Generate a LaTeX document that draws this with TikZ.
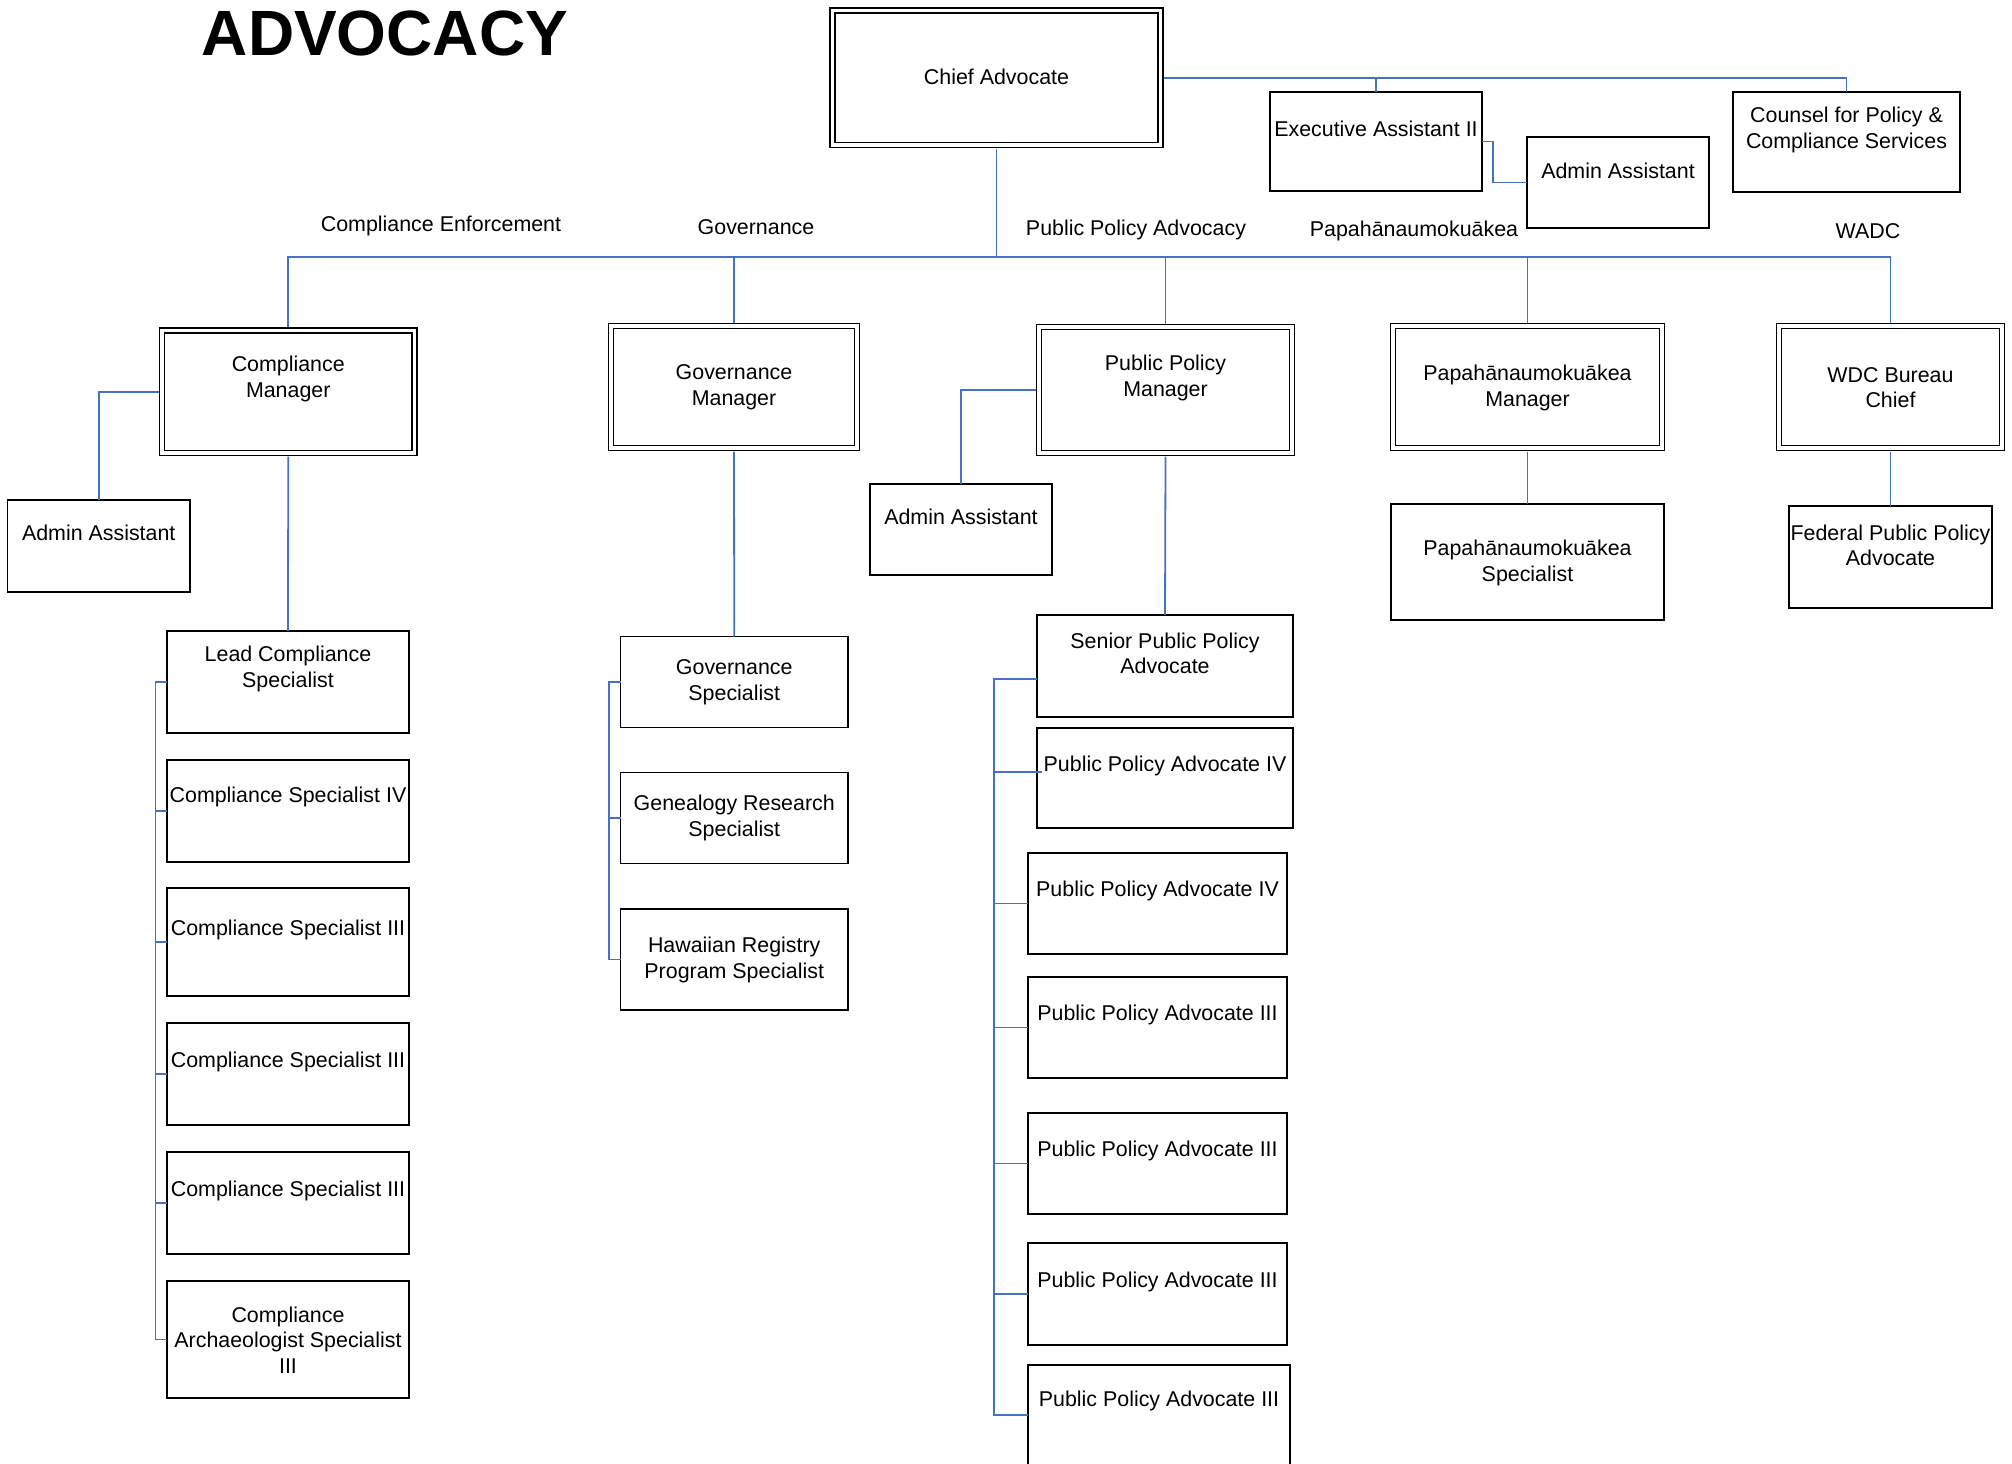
\documentclass[tikz,border=0pt]{standalone}
\usepackage{fontspec}
\setmainfont{Liberation Sans}
\usetikzlibrary{calc}
\definecolor{linkblue}{RGB}{68,114,196}

\begin{document}
\begin{tikzpicture}[x=0.5pt,y=-0.5pt]
	\tikzstyle{every node}+=[inner sep=0pt, outer sep=0pt, align=center, font=\fontsize{10.7}{12.8}\selectfont]
	\tikzstyle{box}=[draw=black, line width=0.9pt]
	\tikzstyle{mgr}=[draw=black, line width=0.95pt, double, double distance=1.55pt, outer sep=1.75pt]
	\tikzstyle{lbl}=[yshift=-0.6pt]
	\tikzstyle{link}=[draw=linkblue, line width=0.9pt]
	\useasboundingbox (0,0) rectangle (2012,1463);
	\clip (0,0) rectangle (2012,1463);
	\node (title) at (385,33) [font=\fontsize{32}{36}\selectfont\bfseries] {ADVOCACY};
	\node (chief) [mgr, minimum width=164pt, minimum height=67.25pt] at (996.5,77.75) {};
	\node (chiefl) [lbl] at (996.5,76) {Chief Advocate};
	\node (exec) [box, minimum width=106pt, minimum height=49.5pt] at (1376,141.5) {};
	\node (execl) [lbl] at (1376,128) {Executive Assistant II};
	\node (adm1) [box, minimum width=91pt, minimum height=45.5pt] at (1618,182.5) {};
	\node (adm1l) [lbl] at (1618,170) {Admin Assistant};
	\node (counsel) [box, minimum width=113.5pt, minimum height=50pt] at (1846.5,142) {};
	\node (counsell) [lbl] at (1846.5,128.5) {Counsel for Policy \&\\Compliance Services};
	\node (secce) [lbl] at (441,225) {Compliance Enforcement};
	\node (secgov) [lbl] at (756,226) {Governance};
	\node (secppa) [lbl] at (1136,229) {Public Policy Advocacy};
	\node (secpap) [lbl] at (1414,230) {Papahānaumokuākea};
	\node (secwadc) [lbl] at (1868,230) {WADC};
	\node (cmgr) [mgr, minimum width=126.25pt, minimum height=61.25pt] at (288.25,391.75) {};
	\node (cmgrl) [lbl] at (288.25,378) {Compliance\\Manager};
	\node (adm0) [box, minimum width=91.25pt, minimum height=46pt] at (98.75,546) {};
	\node (adm0l) [lbl] at (98.75,532) {Admin Assistant};
	\node (gmgr) [mgr, minimum width=123pt, minimum height=61pt] at (734,387) {};
	\node (gmgrl) [lbl] at (734,386) {Governance\\Manager};
	\node (pmgr) [mgr, minimum width=126.5pt, minimum height=63pt] at (1165.5,390) {};
	\node (pmgrl) [lbl] at (1165.5,377) {Public Policy\\Manager};
	\node (adm2) [box, minimum width=91pt, minimum height=45.5pt] at (961,529.5) {};
	\node (adm2l) [lbl] at (961,516) {Admin Assistant};
	\node (pamgr) [mgr, minimum width=134.5pt, minimum height=61pt] at (1527.5,387) {};
	\node (pamgrl) [lbl] at (1527.5,386.5) {Papahānaumokuākea\\Manager};
	\node (wmgr) [mgr, minimum width=111.5pt, minimum height=61pt] at (1890.5,387) {};
	\node (wmgrl) [lbl] at (1890.5,386.5) {WDC Bureau\\Chief};
	\node (paspec) [box, minimum width=136.5pt, minimum height=58pt] at (1527.5,562) {};
	\node (paspecl) [lbl] at (1527.5,561.5) {Papahānaumokuākea\\Specialist};
	\node (fed) [box, minimum width=101.5pt, minimum height=51pt] at (1890.5,557) {};
	\node (fedl) [lbl] at (1890.5,544) {Federal Public Policy\\Advocate};
	\node (lead) [box, minimum width=121pt, minimum height=51pt] at (288,682) {};
	\node (leadl) [lbl] at (288,668) {Lead Compliance\\Specialist};
	\node (cs4) [box, minimum width=121pt, minimum height=51pt] at (288,811) {};
	\node (cs4l) [lbl] at (288,796) {Compliance Specialist IV};
	\node (cs3a) [box, minimum width=121pt, minimum height=54pt] at (288,942) {};
	\node (cs3al) [lbl] at (288,929) {Compliance Specialist III};
	\node (cs3b) [box, minimum width=121pt, minimum height=51pt] at (288,1074) {};
	\node (cs3bl) [lbl] at (288,1061) {Compliance Specialist III};
	\node (cs3c) [box, minimum width=121pt, minimum height=51pt] at (288,1203) {};
	\node (cs3cl) [lbl] at (288,1190) {Compliance Specialist III};
	\node (arch) [box, minimum width=121pt, minimum height=58.5pt] at (288,1339.5) {};
	\node (archl) [lbl] at (288,1339) {Compliance\\Archaeologist Specialist\\III};
	\node (gspec) [box, minimum width=113.75pt, minimum height=45.5pt] at (734.25,682) {};
	\node (gspecl) [lbl] at (734.25,681) {Governance\\Specialist};
	\node (gen) [box, minimum width=113.75pt, minimum height=45.5pt] at (734.25,818) {};
	\node (genl) [lbl] at (734.25,817) {Genealogy Research\\Specialist};
	\node (hawaii) [box, minimum width=113.75pt, minimum height=50.5pt] at (734.25,959.5) {};
	\node (hawaiil) [lbl] at (734.25,959) {Hawaiian Registry\\Program Specialist};
	\node (senior) [box, minimum width=128pt, minimum height=51pt] at (1165,666) {};
	\node (seniorl) [lbl] at (1165,652) {Senior Public Policy\\Advocate};
	\node (ppa4a) [box, minimum width=128pt, minimum height=50pt] at (1165,778) {};
	\node (ppa4al) [lbl] at (1165,765) {Public Policy Advocate IV};
	\node (ppa4b) [box, minimum width=129.5pt, minimum height=50.5pt] at (1157.5,903.5) {};
	\node (ppa4bl) [lbl] at (1157.5,890) {Public Policy Advocate IV};
	\node (ppa3a) [box, minimum width=129.5pt, minimum height=50.5pt] at (1157.5,1027.5) {};
	\node (ppa3al) [lbl] at (1157.5,1014) {Public Policy Advocate III};
	\node (ppa3b) [box, minimum width=129.5pt, minimum height=50.5pt] at (1157.5,1163.5) {};
	\node (ppa3bl) [lbl] at (1157.5,1150) {Public Policy Advocate III};
	\node (ppa3c) [box, minimum width=129.5pt, minimum height=51pt] at (1157.5,1294) {};
	\node (ppa3cl) [lbl] at (1157.5,1281) {Public Policy Advocate III};
	\node (ppa3d) [box, minimum width=131pt, minimum height=50pt] at (1159,1415) {};
	\node (ppa3dl) [lbl] at (1159,1400) {Public Policy Advocate III};
	\coordinate (hub) at (996.5,257);
	\coordinate (crail) at (155.5,682);
	\coordinate (grail) at (609,682);
	\coordinate (prail) at (994,679);
	\coordinate (ppa4tip) at (1042,772);
	\draw [link] (chief.east) -| (counsel.north);
	\draw [link] (exec.north) -- (exec.north |- chief.east);
	\draw [link] (exec.east) -- ++(11,0) |- (adm1.west);
	\draw [link] (chief.south) -- (hub);
	\draw [link] (cmgr.north) |- (hub);
	\draw [link] (wmgr.north) |- (hub);
	\draw [link] (gmgr.north) -- (gmgr.north |- hub);
	\draw [link] (pmgr.north) -- (pmgr.north |- hub);
	\draw [link] (pamgr.north) -- (pamgr.north |- hub);
	\draw [link] (cmgr.west) -| (adm0.north);
	\draw [link] (pmgr.west) -| (adm2.north);
	\draw [link] (pamgr.south) -- (paspec.north);
	\draw [link] (wmgr.south) -- (fed.north);
	\draw [link] (cmgr.south) -- (lead.north);
	\draw [link] (lead.west) -- (crail) |- (arch.west);
	\draw [link] (cs4.west) -- (cs4.west -| crail);
	\draw [link] (cs3a.west) -- (cs3a.west -| crail);
	\draw [link] (cs3b.west) -- (cs3b.west -| crail);
	\draw [link] (cs3c.west) -- (cs3c.west -| crail);
	\draw [link] (gmgr.south) -- (gspec.north);
	\draw [link] (gspec.west) -- (grail) |- (hawaii.west);
	\draw [link] (gen.west) -- (gen.west -| grail);
	\draw [link] (pmgr.south) -- (senior.north);
	\draw [link] (senior.west |- prail) -- (prail) |- (ppa3d.west);
	\draw [link] (ppa4tip) -- (ppa4tip -| prail);
	\draw [link] (ppa4b.west) -- (ppa4b.west -| prail);
	\draw [link] (ppa3a.west) -- (ppa3a.west -| prail);
	\draw [link] (ppa3b.west) -- (ppa3b.west -| prail);
	\draw [link] (ppa3c.west) -- (ppa3c.west -| prail);
\end{tikzpicture}
\end{document}
